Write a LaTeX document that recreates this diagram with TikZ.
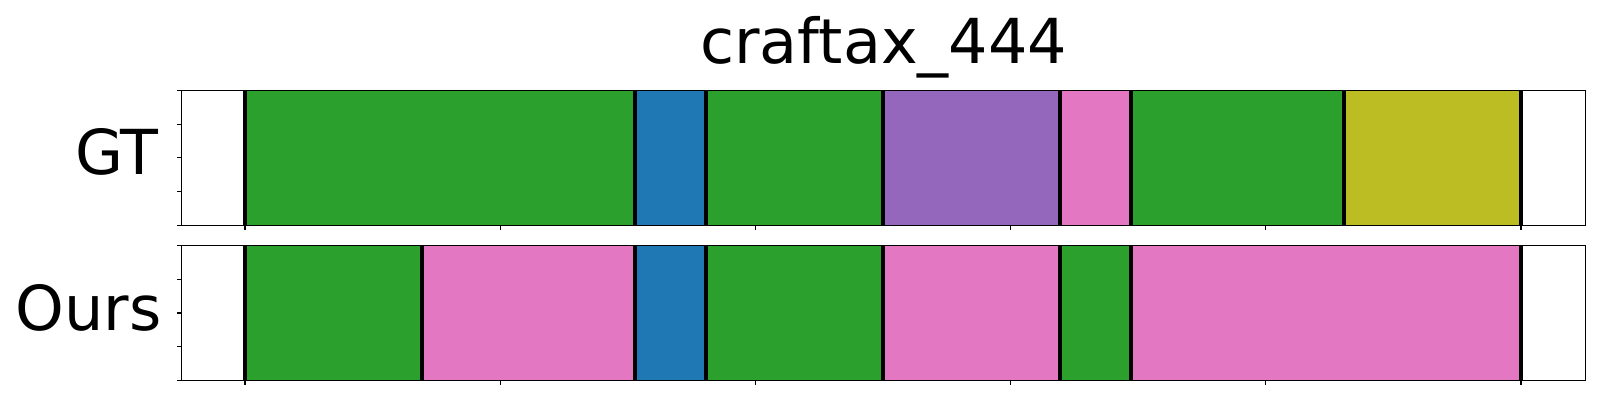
\documentclass[tikz,border=0pt]{standalone}
\usepackage{fontspec}
\setmainfont{DejaVu Sans}
\definecolor{tgreen}{HTML}{2CA02C}
\definecolor{tblue}{HTML}{1F77B4}
\definecolor{tpurple}{HTML}{9467BD}
\definecolor{tpink}{HTML}{E377C2}
\definecolor{tolive}{HTML}{BCBD22}
\begin{document}
\begin{tikzpicture}[x=1pt,y=-1pt,
  bound/.style={line width=4pt,black},
  spine/.style={line width=1.1pt,black},
  tickmark/.style={line width=1.1pt,black},
  lab/.style={inner sep=0pt,outer sep=0pt,font=\fontsize{62}{70}\selectfont}]
\useasboundingbox (0,0) rectangle (1600,400);
% GT segments
\foreach \a/\b/\c in {245/634.8/tgreen,634.8/705.8/tblue,705.8/883/tgreen,883/1059.7/tpurple,1059.7/1130.6/tpink,1130.6/1343.7/tgreen,1343.7/1521/tolive}
  {\fill[\c] (\a,90.5) rectangle (\b,225.3);}
% Ours segments
\foreach \a/\b/\c in {245/421.9/tgreen,421.9/634.8/tpink,634.8/705.8/tblue,705.8/883/tgreen,883/1059.7/tpink,1059.7/1130.6/tgreen,1130.6/1521/tpink}
  {\fill[\c] (\a,245.7) rectangle (\b,380.3);}
% boundaries
\foreach \x in {245,634.8,705.8,883,1059.7,1130.6,1343.7,1521}
  {\draw[bound] (\x,90.5) -- (\x,225.3);}
\foreach \x in {245,421.9,634.8,705.8,883,1059.7,1130.6,1521}
  {\draw[bound] (\x,245.7) -- (\x,380.3);}
% frames
\draw[spine] (181.7,90.5) rectangle (1585.7,225.3);
\draw[spine] (181.7,245.7) rectangle (1585.7,380.3);
% ticks
\foreach \k in {0,...,5}{
  \draw[tickmark] ({245+255.2*\k},225.3) -- ++(0,4.9);
  \draw[tickmark] ({245+255.2*\k},380.3) -- ++(0,4.9);}
\foreach \f in {0,0.25,0.5,0.75,1}{
  \draw[tickmark] (181.7,{90.5+134.8*\f}) -- ++(-4.9,0);
  \draw[tickmark] (181.7,{245.7+134.6*\f}) -- ++(-4.9,0);}
% labels
\node[lab,anchor=base] (title) at (883.7,63) {craftax\_444};
\node[lab,anchor=base east] (gt) at (158.8,174.7) {GT};
\node[lab,anchor=base east] (ours) at (161.5,330) {Ours};
\end{tikzpicture}
\end{document}
